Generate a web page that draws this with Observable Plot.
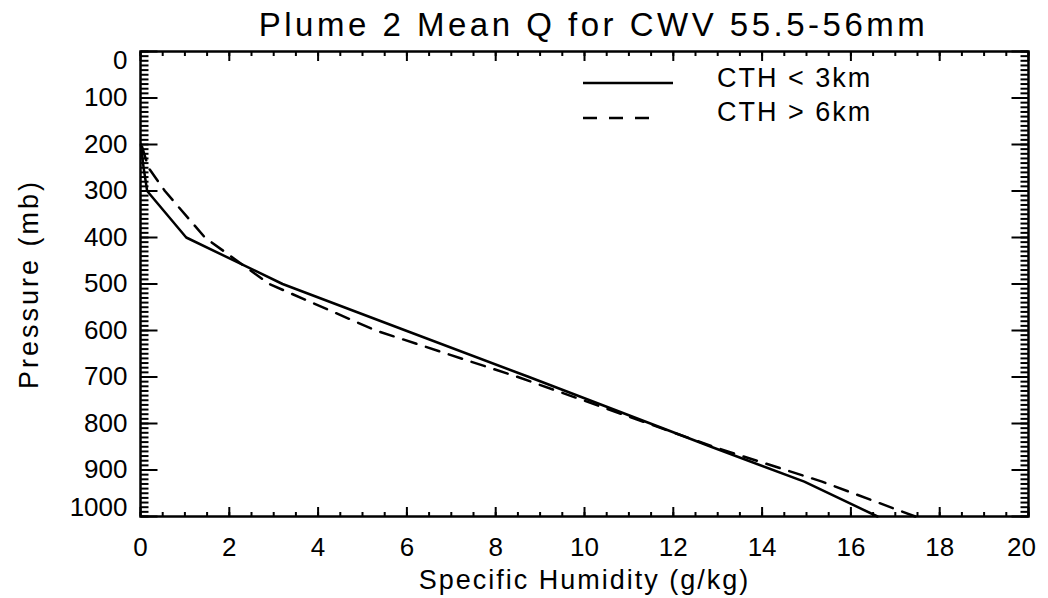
<!DOCTYPE html>
<html><head><meta charset="utf-8">
<script src="https://cdn.jsdelivr.net/npm/d3@7"></script>
<script src="https://cdn.jsdelivr.net/npm/@observablehq/plot@0.6"></script>
<style>body{margin:0;background:#fff;}</style>
</head><body><div id="chart"></div>
<script>
const titleText = "Plume 2 Mean Q for CWV 55.5-56mm";
const xLabel = "Specific Humidity (g/kg)";
const yLabel = "Pressure (mb)";
const seriesNames = ["CTH < 3km", "CTH > 6km"];
const pressure = [1000, 925, 850, 700, 600, 500, 400, 300, 250, 200];
const qShallow = [16.6, 14.95, 12.85, 8.75, 5.97, 3.2, 1.03, 0.15, 0.07, 0.01];
const qDeep    = [17.45, 15.35, 12.9, 8.5, 5.3, 2.9, 1.45, 0.55, 0.18, 0.02];
const xTicks = [0, 2, 4, 6, 8, 10, 12, 14, 16, 18, 20];
const yTicks = [0, 100, 200, 300, 400, 500, 600, 700, 800, 900, 1000];
const xMinor = d3.range(0, 20.001, 0.5);
const yMinor = d3.range(0, 1000.1, 10);

const rowsShallow = pressure.map((p, i) => ({p, q: qShallow[i], s: seriesNames[0]}));
const rowsDeep = pressure.map((p, i) => ({p, q: qDeep[i], s: seriesNames[1]}));

const FONT = "Liberation Sans";
const lb = {tickSize: 0, label: null, fontSize: 26, tickFormat: d => String(d)};

function legend() {
  const g = d3.create("svg:g");
  const items = [
    {name: seriesNames[0], dash: null, x2: 673, ly: 83, ty: 78},
    {name: seriesNames[1], dash: "14,12", x2: 660, ly: 118, ty: 112}
  ];
  for (const it of items) {
    g.append("line").attr("x1", 583).attr("x2", it.x2).attr("y1", it.ly).attr("y2", it.ly)
      .attr("stroke", "black").attr("stroke-width", 2.5).attr("stroke-dasharray", it.dash);
    g.append("text").attr("x", 717).attr("y", it.ty).attr("dy", "0.35em")
      .attr("text-anchor", "start").attr("font-size", 27).attr("letter-spacing", "2px")
      .attr("fill", "black").text(it.name);
  }
  return g.node();
}

// tick segments as data rows for Plot.link, in data units
const xLen = 20 / 888, yLen = 1000 / 465;   // data units per pixel
const tickRows = [];
for (const v of xMinor) { tickRows.push({x1: v, x2: v, y1: 1000, y2: 1000 - 4.5 * yLen}, {x1: v, x2: v, y1: 0, y2: 4.5 * yLen}); }
for (const v of xTicks) { tickRows.push({x1: v, x2: v, y1: 1000, y2: 1000 - 9.5 * yLen}, {x1: v, x2: v, y1: 0, y2: 9.5 * yLen}); }
for (const v of yMinor) { tickRows.push({x1: 0, x2: 8 * xLen, y1: v, y2: v}, {x1: 20, x2: 20 - 8 * xLen, y1: v, y2: v}); }
for (const v of yTicks) { tickRows.push({x1: 0, x2: 17 * xLen, y1: v, y2: v}, {x1: 20, x2: 20 - 17 * xLen, y1: v, y2: v}); }

const chart = Plot.plot({
  width: 1048, height: 598,
  marginLeft: 140, marginRight: 20, marginTop: 51, marginBottom: 82,
  x: {domain: [0, 20]},
  y: {domain: [0, 1000], reverse: true},
  axis: null,
  style: {fontFamily: FONT, background: "white", color: "black", overflow: "visible"},
  marks: [
    Plot.link(tickRows, {x1: "x1", x2: "x2", y1: "y1", y2: "y2", stroke: "black", strokeWidth: 2}),
    Plot.frame({stroke: "black", fill: "none", strokeWidth: 2.5}),
    Plot.axisX({ticks: xTicks.filter(v => v < 20), anchor: "bottom", tickPadding: 21, ...lb}),
    Plot.axisX({ticks: [20], anchor: "bottom", tickPadding: 21, dx: -7, ...lb}),
    Plot.axisY({ticks: yTicks.filter(v => v > 0 && v < 1000), anchor: "left", tickPadding: 13, ...lb}),
    Plot.axisY({ticks: [0], anchor: "left", tickPadding: 13, dy: 9, ...lb}),
    Plot.axisY({ticks: [1000], anchor: "left", tickPadding: 13, dy: -9, ...lb}),
    Plot.line(rowsShallow, {x: "q", y: "p", stroke: "black", strokeWidth: 2.5}),
    Plot.line(rowsDeep, {x: "q", y: "p", stroke: "black", strokeWidth: 2.5, strokeDasharray: "14,10"}),
    Plot.text([titleText], {frameAnchor: "top", dy: -26, dx: 9, fontSize: 33, lineAnchor: "middle", fill: "black"}),
    Plot.text([xLabel], {frameAnchor: "bottom", dy: 64, dx: 0, fontSize: 27, lineAnchor: "middle", fill: "black"}),
    Plot.text([yLabel], {frameAnchor: "left", dx: -111, rotate: -90, fontSize: 27, textAnchor: "middle", lineAnchor: "middle", fill: "black"}),
    legend
  ]
});
const spacing = {[titleText]: "3.5px", [xLabel]: "2px", [yLabel]: "3px"};
d3.select(chart).selectAll("text").each(function() {
  const t = this.textContent;
  if (spacing[t]) this.setAttribute("letter-spacing", spacing[t]);
});
document.getElementById("chart").appendChild(chart);
</script>
</body></html>
